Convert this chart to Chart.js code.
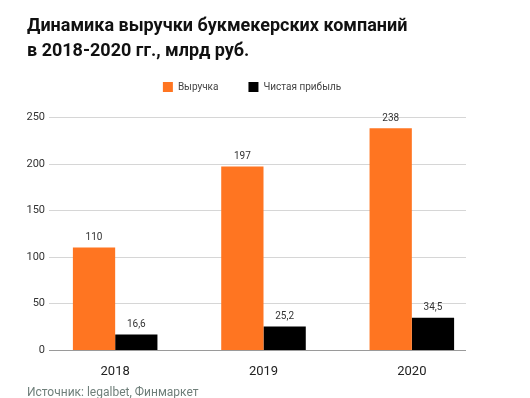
<!DOCTYPE html>
<html lang="ru">
<head>
<meta charset="utf-8">
<script src="https://cdn.jsdelivr.net/npm/chart.js@4"></script>
<style>
  html, body { margin: 0; padding: 0; background: #fff; }
  #wrap { position: relative; width: 530px; height: 398px; overflow: hidden; }
  #chart { position: absolute; left: 0; top: 0; }
  .title {
    position: absolute; left: 27px; top: 12px;
    font: bold 18px Roboto, sans-serif; line-height: 25px; color: #111;
  }
  .source {
    position: absolute; left: 27px; top: 385px;
    font: 12px Roboto, sans-serif; color: #6f7f7a;
  }
</style>
</head>
<body>
<div id="wrap">
  <canvas id="chart" width="530" height="398"></canvas>
  <div class="title">Динамика выручки букмекерских компаний<br>в 2018-2020 гг., млрд руб.</div>
  <div class="source">Источник: legalbet, Финмаркет</div>
</div>
<script>
// chart data
const years = ['2018', '2019', '2020'];
const revenue = [110, 197, 238];
const netProfit = [16.6, 25.2, 34.5];
const yTicks = [0, 50, 100, 150, 200, 250];

// horizontal grid lines + y labels, taken from the y scale
// (drawn by hand so lines stop short of the plot edges like the original)
const gridLines = {
  id: 'gridLines',
  beforeDatasetsDraw(chart) {
    const ctx = chart.ctx;
    const y = chart.scales.y;
    ctx.save();
    ctx.lineWidth = 1;
    ctx.font = '11px Roboto, sans-serif';
    ctx.fillStyle = '#333';
    ctx.textAlign = 'right';
    ctx.textBaseline = 'middle';
    y.ticks.forEach(t => {
      const py = Math.round(y.getPixelForValue(t.value)) + 0.5;
      ctx.strokeStyle = t.value === 0 ? '#9a9a9a' : '#d6d6d6';
      ctx.beginPath();
      ctx.moveTo(49, py);
      ctx.lineTo(466, py);
      ctx.stroke();
      ctx.fillText(String(t.value), 45, py);
    });
    ctx.restore();
  }
};

// value labels above each bar (comma as decimal separator)
const barLabels = {
  id: 'barLabels',
  afterDatasetsDraw(chart) {
    const ctx = chart.ctx;
    ctx.save();
    ctx.font = '10px Roboto, sans-serif';
    ctx.fillStyle = '#333';
    ctx.textAlign = 'center';
    ctx.textBaseline = 'bottom';
    chart.data.datasets.forEach((ds, i) => {
      chart.getDatasetMeta(i).data.forEach((bar, j) => {
        const txt = String(ds.data[j]).replace('.', ',');
        ctx.fillText(txt, bar.x, bar.y - 5);
      });
    });
    ctx.restore();
  }
};

// extra space under the legend, and nudge it right a bit
const legendGap = {
  id: 'legendGap',
  beforeInit(chart) {
    const fit = chart.legend.fit;
    chart.legend.fit = function () {
      fit.bind(chart.legend)();
      this.height += 15;
    };
  },
  afterLayout(chart) {
    chart.legend.left += 9;
    chart.legend.right += 9;
  }
};

const ctx = document.getElementById('chart').getContext('2d');
new Chart(ctx, {
  type: 'bar',
  data: {
    labels: years,
    datasets: [
      { label: 'Выручка', data: revenue, backgroundColor: '#ff7521' },
      { label: 'Чистая прибыль', data: netProfit, backgroundColor: '#000000' }
    ]
  },
  options: {
    responsive: false,
    animation: false,
    layout: { padding: { top: 52, left: 0, right: 44, bottom: 0 } },
    datasets: {
      bar: { barPercentage: 1, categoryPercentage: 0.57 }
    },
    plugins: {
      legend: {
        position: 'top',
        labels: {
          boxWidth: 10, boxHeight: 10, padding: 30,
          color: '#444',
          font: { family: 'Roboto', size: 10 }
        }
      },
      tooltip: { enabled: false }
    },
    scales: {
      x: {
        grid: { display: false, drawTicks: false },
        border: { display: false },
        ticks: { color: '#222', padding: 14, font: { family: 'Roboto', size: 13 } },
        afterFit(scale) { scale.height = 48; }
      },
      y: {
        min: 0, max: 250,
        afterBuildTicks(scale) { scale.ticks = yTicks.map(v => ({ value: v })); },
        grid: { display: false, drawTicks: false },
        border: { display: false },
        ticks: { display: false },
        afterFit(scale) { scale.width = 41; }
      }
    }
  },
  plugins: [gridLines, barLabels, legendGap]
});
</script>
</body>
</html>
